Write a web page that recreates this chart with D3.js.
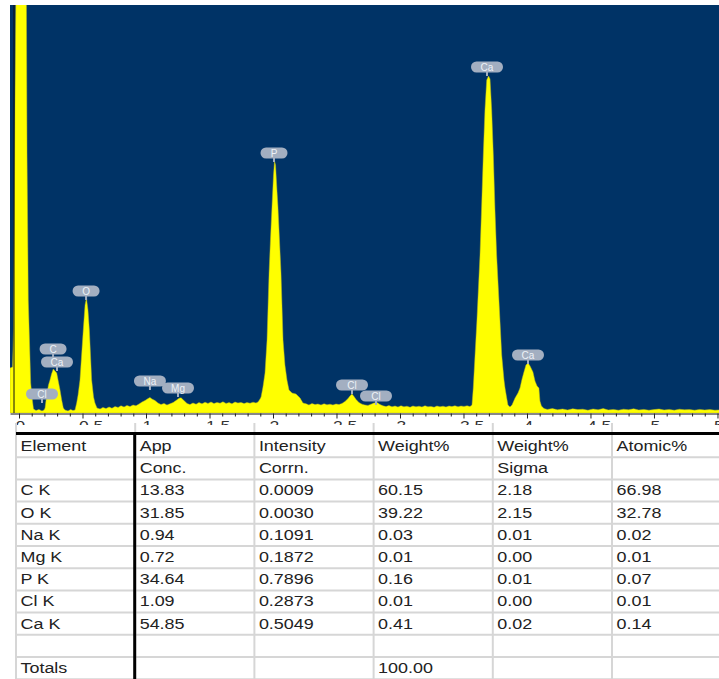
<!DOCTYPE html>
<html>
<head>
<meta charset="utf-8">
<script src="https://cdn.jsdelivr.net/npm/d3@7"></script>
<style>
  body { margin: 0; background: #fff; }
  svg { display: block; }
</style>
</head>
<body>
<svg id="chart" width="719" height="679"></svg>
<script>
// EDS spectrum: photon energy (keV) and counts per channel
const energyKeV = [
  -0.071,-0.051,-0.043,-0.031,-0.018,0.020,0.055,0.063,0.073,0.092,0.105,0.114,
  0.134,0.157,0.181,0.197,
  0.205,0.218,0.232,0.244,0.256,0.270,0.283,0.297,0.309,0.323,0.336,0.349,0.362,
  0.386,0.406,0.425,0.441,
  0.454,0.465,0.480,0.506,0.520,0.531,0.543,0.554,0.572,0.587,0.598,0.614,
  0.638,0.661,0.685,0.709,0.732,0.756,0.780,0.803,0.827,0.850,0.874,0.898,0.921,0.945,
  0.969,0.992,1.016,1.031,1.047,1.071,1.094,1.118,1.142,1.165,1.189,1.213,
  1.236,1.260,1.276,1.299,1.323,1.346,
  1.370,1.394,1.417,1.441,1.465,1.488,1.512,1.535,1.559,1.583,1.606,1.630,1.654,1.677,1.701,1.724,1.748,1.772,1.795,1.819,1.843,1.866,
  1.882,1.898,1.906,1.921,1.937,1.953,1.969,1.980,1.992,2.004,2.012,2.020,2.031,2.039,2.051,2.063,2.079,2.094,2.110,2.126,2.150,2.181,2.213,2.236,
  2.260,2.283,2.307,2.331,2.354,2.378,2.402,2.425,2.449,2.472,2.496,2.520,2.543,
  2.567,2.591,2.606,2.622,2.638,2.654,2.677,2.701,2.724,2.748,2.772,2.795,2.819,2.843,2.866,
  2.890,2.913,2.937,2.961,2.984,3.008,3.031,3.055,3.079,3.102,3.126,3.150,3.173,3.197,3.220,3.244,3.268,3.291,3.315,3.339,3.362,3.386,3.409,3.433,3.457,3.480,3.504,3.528,
  3.551,3.567,3.577,3.591,3.606,3.630,3.642,3.656,3.669,3.683,3.697,3.709,3.722,3.735,3.748,3.761,3.783,3.801,3.819,3.827,3.839,3.850,3.866,
  3.882,3.906,3.929,3.945,3.961,3.976,3.992,4.009,4.024,4.047,4.063,4.079,4.094,4.102,4.114,4.134,
  4.16,4.20,4.24,4.28,4.32,4.36,4.40,4.44,4.48,4.52,4.56,4.60,4.64,4.68,4.72,4.76,4.80,4.84,4.88,4.92,4.96,5.00,5.04,5.08,5.12,5.16,5.20,5.24,5.28,5.32,5.36,5.40,5.44,5.48,5.52
];
const counts = [
  225,230,420,1600,2600,3400,2600,1300,565,150,65,20,
  12,18,10,15,
  25,90,140,165,195,220,210,200,160,115,65,25,15,
  10,18,12,15,
  50,90,165,415,540,575,515,415,165,80,50,25,
  20,28,22,30,24,32,28,36,30,38,32,40,36,45,
  55,62,72,78,70,62,50,42,48,40,46,52,
  62,74,76,62,48,42,
  50,44,52,46,54,48,55,47,53,49,56,48,52,46,55,50,53,47,52,49,54,50,
  55,70,80,130,200,365,700,865,1030,1190,1260,1240,1115,1030,865,700,365,240,165,115,100,95,75,50,
  46,40,47,42,45,40,46,41,44,40,45,42,48,
  58,72,85,95,82,68,52,44,40,38,44,50,52,42,36,
  32,37,31,35,30,36,31,34,29,35,31,34,30,36,31,33,29,35,31,34,30,35,32,36,31,35,33,36,
  32,40,125,290,465,790,1015,1290,1515,1665,1685,1670,1515,1290,1015,790,515,290,165,125,80,40,30,
  40,75,100,125,170,205,240,250,235,205,160,135,125,60,35,22,
  18,22,16,20,15,21,17,19,14,20,16,22,15,18,14,19,16,21,15,18,14,17,20,15,18,14,19,16,17,14,18,15,17,14,16
];

// Peak identification markers: element symbol, line energy (keV), marker height (counts)
const peakElements = ["Cl", "C", "Ca", "O", "Na", "Mg", "P", "Cl", "Cl", "Ca", "Ca"];
const peakEnergy   = [0.181, 0.268, 0.299, 0.528, 1.031, 1.252, 2.008, 2.622, 2.811, 3.685, 4.008];
const peakMarkerCounts = [95, 320, 255, 610, 160, 125, 1300, 140, 85, 1730, 290];

// Energy axis ticks (keV)
const majorTicks = [0, 0.5, 1, 1.5, 2, 2.5, 3, 3.5, 4, 4.5, 5, 5.5];
const majorTickLabels = ["0", "0.5", "1", "1.5", "2", "2.5", "3", "3.5", "4", "4.5", "5", "5.5"];
const minorTicks = [0.1,0.2,0.3,0.4,0.6,0.7,0.8,0.9,1.1,1.2,1.3,1.4,1.6,1.7,1.8,1.9,2.1,2.2,2.3,2.4,
  2.6,2.7,2.8,2.9,3.1,3.2,3.3,3.4,3.6,3.7,3.8,3.9,4.1,4.2,4.3,4.4,4.6,4.7,4.8,4.9,5.1,5.2,5.3,5.4];

// Quantification results table
const headerRow1 = ["Element", "App", "Intensity", "Weight%", "Weight%", "Atomic%"];
const headerRow2 = ["", "Conc.", "Corrn.", "", "Sigma", ""];
const elementLines = ["C K", "O K", "Na K", "Mg K", "P K", "Cl K", "Ca K"];
const appConc = [13.83, 31.85, 0.94, 0.72, 34.64, 1.09, 54.85];
const intensityCorrn = [0.0009, 0.0030, 0.1091, 0.1872, 0.7896, 0.2873, 0.5049];
const weightPct = [60.15, 39.22, 0.03, 0.01, 0.16, 0.01, 0.41];
const weightSigma = [2.18, 2.15, 0.01, 0.00, 0.01, 0.00, 0.02];
const atomicPct = [66.98, 32.78, 0.02, 0.01, 0.07, 0.01, 0.14];
const weightTotal = 100.00;

const svg = d3.select("#chart");
const FONT = "'Liberation Sans', Arial, Helvetica, sans-serif";

// horizontally widen text glyphs
function widen(sel, k) {
  sel.each(function () {
    const w = this.getComputedTextLength();
    if (w > 0) d3.select(this).attr("textLength", w * k).attr("lengthAdjust", "spacingAndGlyphs");
  });
}

// ---------- spectrum ----------
const plot = { left: 10, right: 719, top: 5, bottom: 413 };
const x = d3.scaleLinear().domain([-0.071, 5.512]).range([plot.left, plot.right]);
const y = d3.scaleLinear().domain([0, 2040]).range([plot.bottom, plot.top]);

svg.append("defs").append("clipPath").attr("id", "plotClip")
  .append("rect").attr("x", plot.left).attr("y", plot.top)
  .attr("width", plot.right - plot.left).attr("height", plot.bottom - plot.top);
svg.select("defs").append("clipPath").attr("id", "tickClip")
  .append("rect").attr("x", 0).attr("y", 414).attr("width", 719).attr("height", 11);

svg.append("rect").attr("x", plot.left).attr("y", plot.top)
  .attr("width", plot.right - plot.left).attr("height", plot.bottom - plot.top)
  .attr("fill", "#003366");

const spectrum = energyKeV.map((e, i) => ({ e, c: counts[i] }));
const area = d3.area().x(d => x(d.e)).y0(y(0)).y1(d => y(d.c));
svg.append("path").datum(spectrum)
  .attr("clip-path", "url(#plotClip)")
  .attr("d", area)
  .attr("fill", "#ffff00")
  .attr("stroke", "#b8b820").attr("stroke-width", 0.8).attr("stroke-opacity", 0.6);

// vertical axis line
svg.append("line").attr("x1", 14).attr("x2", 14).attr("y1", plot.top).attr("y2", plot.bottom)
  .attr("stroke", "#111").attr("stroke-width", 1);

// peak markers
const markers = svg.append("g").attr("font-family", FONT);
peakElements.forEach((el, i) => {
  const cx = x(peakEnergy[i]), cy = y(peakMarkerCounts[i]);
  const g = markers.append("g").attr("transform", `translate(${cx},${cy})`);
  const w = el.length > 1 ? 32 : 27;
  g.append("line").attr("x1", 0).attr("x2", 0).attr("y1", 4).attr("y2", 9)
    .attr("stroke", "#a3afc1").attr("stroke-width", 2);
  g.append("rect").attr("x", -w / 2).attr("y", -5.5).attr("width", w).attr("height", 11)
    .attr("rx", 5.5).attr("ry", 5.5).attr("fill", "#a3afc1");
  g.append("text").attr("text-anchor", "middle").attr("dy", "0.36em")
    .attr("font-size", 10).attr("fill", "#eef2f7").text(el);
});

// energy axis
const axisY = plot.bottom + 0.5;
const minorAxis = d3.axisBottom(x).tickValues(minorTicks).tickSize(3).tickSizeOuter(0).tickFormat("");
const majorAxis = d3.axisBottom(x).tickValues(majorTicks).tickSize(5).tickSizeOuter(0).tickPadding(3)
  .tickFormat((d, i) => majorTickLabels[i]);

const gMinor = svg.append("g").attr("transform", `translate(0,${axisY})`).call(minorAxis);
gMinor.select(".domain").remove();
gMinor.selectAll(".tick line").attr("stroke", "#222");

const gMajor = svg.append("g").attr("transform", `translate(0,${axisY})`).call(majorAxis);
gMajor.select(".domain").attr("stroke", "#111");
gMajor.selectAll(".tick line").attr("stroke", "#222");
gMajor.selectAll(".tick text")
  .attr("font-family", FONT).attr("font-size", 14).attr("fill", "#333").attr("x", -4)
  .attr("clip-path", "url(#tickClip)");
// clip labels in page coordinates
gMajor.selectAll(".tick text").attr("clip-path", null);
gMajor.selectAll(".tick text").call(widen, 1.25);
const labelLayer = svg.append("g").attr("clip-path", "url(#tickClip)");
gMajor.selectAll(".tick").each(function () {
  const t = d3.select(this).select("text").node();
  labelLayer.append("g").attr("transform", d3.select(this).attr("transform") + ` translate(0,${axisY})`)
    .node().appendChild(t);
});

// ---------- table ----------
const colX = d3.scaleLinear().domain([0, 6]).range([16, 16 + 6 * 119.2]);
const rowY = d3.scaleLinear().domain([0, 11]).range([435, 435 + 11 * 22.2]);

const rows = [headerRow1, headerRow2];
elementLines.forEach((el, i) => rows.push([
  el, appConc[i].toFixed(2), intensityCorrn[i].toFixed(4),
  weightPct[i].toFixed(2), weightSigma[i].toFixed(2), atomicPct[i].toFixed(2)
]));
rows.push(["", "", "", "", "", ""]);
rows.push(["Totals", "", "", weightTotal.toFixed(2), "", ""]);

const table = svg.append("g");
const grid = "#d6d6d6";
// row separators
table.selectAll("line.row").data(d3.range(1, rows.length + 1)).join("line")
  .attr("class", "row")
  .attr("x1", colX(0)).attr("x2", 719)
  .attr("y1", d => rowY(d)).attr("y2", d => rowY(d))
  .attr("stroke", grid).attr("stroke-width", 2);
// column separators
table.selectAll("line.col").data(d3.range(0, 6)).join("line")
  .attr("class", "col")
  .attr("x1", d => colX(d)).attr("x2", d => colX(d))
  .attr("y1", 423).attr("y2", 679)
  .attr("stroke", grid).attr("stroke-width", 2);
// heavy rules
table.append("line").attr("x1", colX(0)).attr("x2", 719).attr("y1", 433.5).attr("y2", 433.5)
  .attr("stroke", "#000").attr("stroke-width", 3);
table.append("line").attr("x1", colX(1) - 0.5).attr("x2", colX(1) - 0.5).attr("y1", 432).attr("y2", 679)
  .attr("stroke", "#000").attr("stroke-width", 3);

// cell text
const cells = [];
rows.forEach((r, ri) => r.forEach((v, ci) => { if (v !== "") cells.push({ ri, ci, v }); }));
table.selectAll("text.cell").data(cells).join("text")
  .attr("class", "cell")
  .attr("x", d => colX(d.ci) + 4.5)
  .attr("y", d => rowY(d.ri) + 16)
  .attr("font-family", FONT).attr("font-size", 14).attr("fill", "#222")
  .text(d => d.v)
  .call(widen, 1.28);
</script>
</body>
</html>
